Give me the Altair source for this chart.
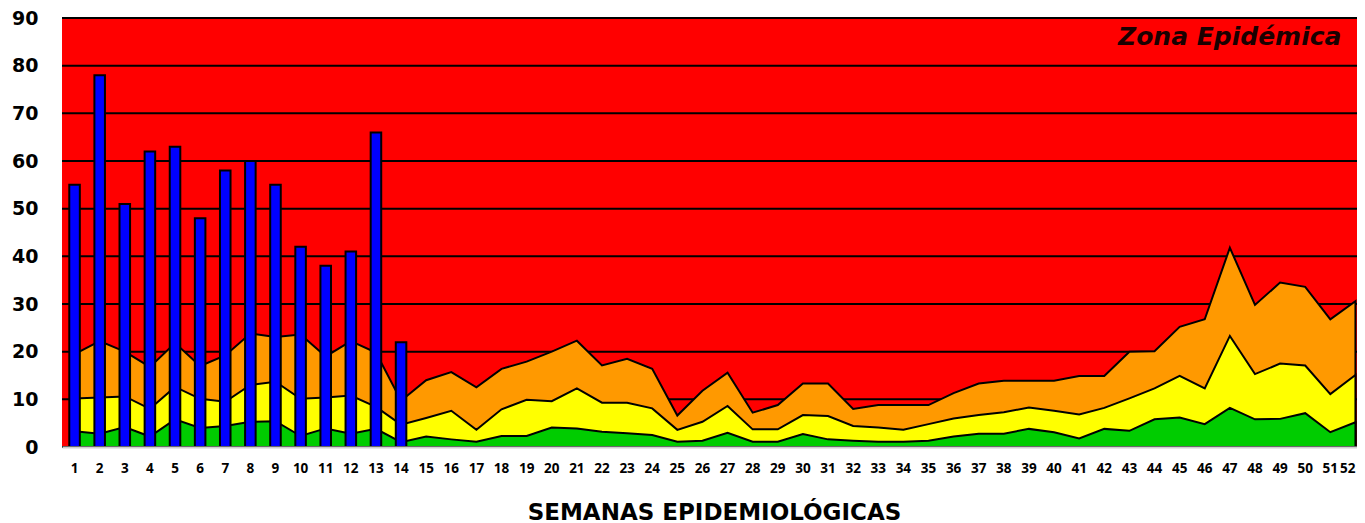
import altair as alt
import pandas as pd

semanas = list(range(1, 53))
casos = [55, 78, 51, 62, 63, 48, 58, 60, 55, 42, 38, 41, 66, 22]
exito = [3.3, 2.8, 4.2, 2.2, 5.8, 4.0, 4.4, 5.3, 5.4, 2.3, 3.9, 2.8, 3.8, 1.0,
         2.2, 1.6, 1.1, 2.3, 2.3, 4.1, 3.9, 3.2, 2.9, 2.5, 1.1, 1.3, 3.0, 1.1,
         1.1, 2.7, 1.6, 1.3, 1.1, 1.1, 1.3, 2.2, 2.8, 2.8, 3.8, 3.1, 1.8, 3.8,
         3.4, 5.8, 6.2, 4.8, 8.2, 5.8, 5.9, 7.1, 3.1, 5.2]
seguridad = [10.2, 10.4, 10.6, 8.0, 12.6, 10.1, 9.5, 13.0, 13.7, 10.1, 10.4, 10.8, 8.4, 4.7,
             6.1, 7.6, 3.6, 7.9, 9.9, 9.6, 12.3, 9.3, 9.3, 8.1, 3.6, 5.3, 8.6, 3.7,
             3.7, 6.7, 6.5, 4.4, 4.1, 3.6, 4.8, 6.0, 6.7, 7.3, 8.3, 7.6, 6.8, 8.2,
             10.2, 12.3, 14.9, 12.3, 23.3, 15.3, 17.5, 17.1, 11.1, 15.1]
alerta = [19.5, 22.2, 20.0, 16.8, 21.8, 17.0, 19.2, 23.8, 23.1, 23.6, 19.0, 22.2, 19.8, 9.7,
          14.0, 15.7, 12.5, 16.4, 17.9, 20.0, 22.3, 17.1, 18.5, 16.4, 6.6, 11.8, 15.6, 7.2,
          8.8, 13.3, 13.3, 8.0, 8.8, 8.8, 8.8, 11.3, 13.3, 13.9, 13.9, 13.9, 14.9, 14.9,
          20.0, 20.1, 25.2, 26.8, 41.8, 29.8, 34.5, 33.6, 26.8, 30.6]
y_ticks = [0, 10, 20, 30, 40, 50, 60, 70, 80, 90]
etiqueta_zona = "Zona Epidémica"
zona_semana = 52
zona_valor = 84.3
titulo_x = "SEMANAS EPIDEMIOLÓGICAS"

df = pd.DataFrame({
    "semana": semanas,
    "casos": casos + [None] * (len(semanas) - len(casos)),
    "exito": exito,
    "seguridad": seguridad,
    "alerta": alerta,
})
df_zona = pd.DataFrame({"semana": [zona_semana], "valor": [zona_valor], "t": [etiqueta_zona]})
df_grid = pd.DataFrame({"valor": y_ticks})
df_fondo = pd.DataFrame({"zona": ["epidemica"]})

FONT = "DejaVu Sans"
RED = "#FF0000"

x_scale = alt.Scale(domain=semanas, range=[0, 1306], paddingInner=0.58, paddingOuter=0.29)
x_axis = alt.Axis(
    title=titulo_x, labelAngle=0, labelFont="Open Sans", labelFontSize=13.5,
    labelFontWeight="bold", labelColor="black", labelPadding=14,
    labelOverlap=False, ticks=False, tickSize=0,
    labelAlign={"condition": {"test": "datum.value == 52", "value": "right"}, "value": "center"},
    domainColor="#d0d0d0", domainWidth=2, zindex=1,
    titleFont=FONT, titleFontSize=23, titleFontWeight="bold",
    titleColor="black", titleBaseline="alphabetic", titleY=72,
    titleX=652, titleAlign="center",
)
y_scale = alt.Scale(domain=[0, 90], nice=False)
y_axis = alt.Axis(
    title=None, values=y_ticks, labelFont=FONT, labelFontSize=19,
    labelFontWeight="bold", labelColor="black", labelPadding=24,
    ticks=False, tickSize=0, grid=False,
    domainColor="#c8c8c8", domainWidth=1,
)

# red epidemic zone filling the whole plot area
fondo = alt.Chart(df_fondo).mark_rect(color=RED).encode(
    x=alt.value(0), x2=alt.value("width"), y=alt.value(0), y2=alt.value("height"))

grid = alt.Chart(df_grid).mark_rule(color="black", strokeWidth=2).encode(
    y=alt.Y("valor:Q", scale=y_scale, axis=y_axis))

base = alt.Chart(df)
area_style = dict(stroke="black", strokeWidth=2, strokeJoin="miter")

orange = base.mark_area(color="#FF9900", **area_style).encode(
    x=alt.X("semana:O", scale=x_scale, axis=x_axis),
    y=alt.Y("alerta:Q"))
yellow = base.mark_area(color="#FFFF00", **area_style).encode(
    x=alt.X("semana:O"), y=alt.Y("seguridad:Q"))
green = base.mark_area(color="#00CC00", **area_style).encode(
    x=alt.X("semana:O"), y=alt.Y("exito:Q"))
bars = base.transform_filter("isValid(datum.casos)").mark_bar(
    color="#0000FF", stroke="black", strokeWidth=2).encode(
    x=alt.X("semana:O"), y=alt.Y("casos:Q"))

zona = alt.Chart(df_zona).mark_text(
    font=FONT, fontSize=25, fontWeight="bold", fontStyle="italic",
    color="#1a0000", align="right", baseline="alphabetic", dx=-14,
).encode(x=alt.X("semana:O"), y=alt.Y("valor:Q"), text="t:N")

chart = alt.layer(fondo, grid, orange, yellow, green, bars, zona).properties(
    width=1295, height=429,
    padding={"left": 54, "top": 10, "right": 0, "bottom": 80},
    autosize=alt.AutoSizeParams(type="none"),
).configure_view(fill=RED, strokeWidth=0).configure(background="white")

chart.save("out.html", embed_options={"renderer": "svg", "actions": False})
